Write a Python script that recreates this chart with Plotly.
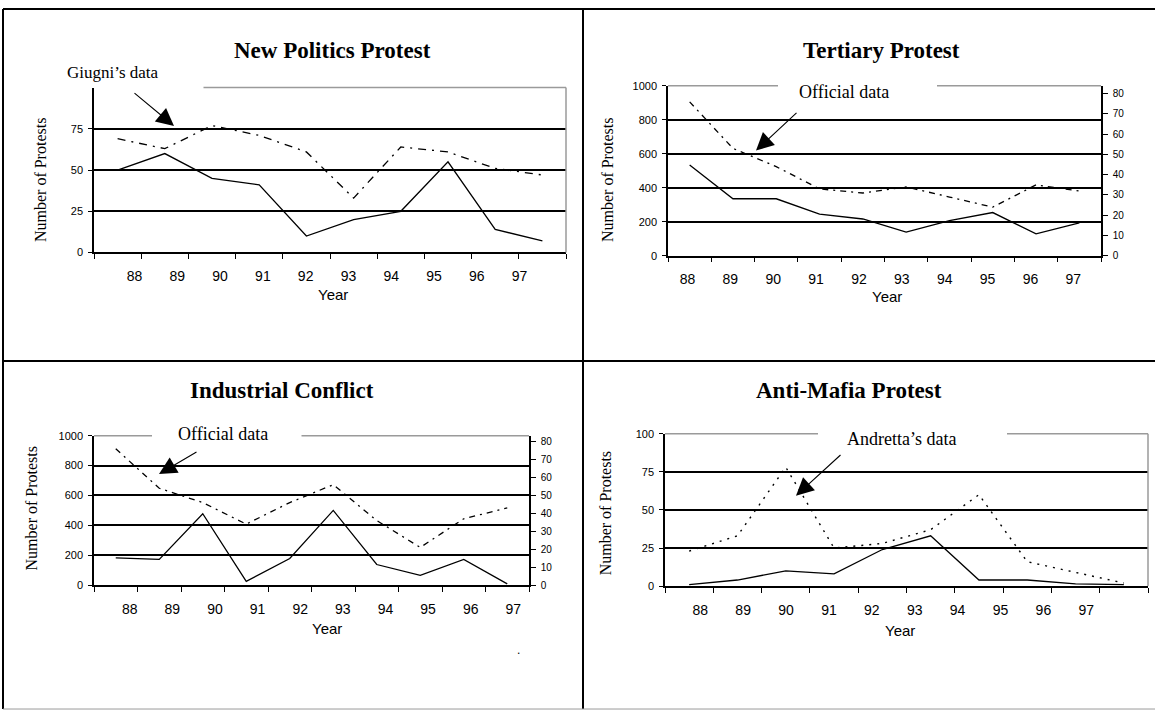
import plotly.graph_objects as go

W, H = 1155, 716

# ---- data -------------------------------------------------------------
years = ["88", "89", "90", "91", "92", "93", "94", "95", "96", "97"]

# New Politics Protest (left axis 0-100)
np_main = [50, 60, 45, 41, 10, 20, 25, 55, 14, 7]
np_giugni = [69, 63, 77, 71, 61, 33, 64, 61, 51, 47]

# Tertiary Protest (main on left axis 0-1000, official on right axis 0-80)
tp_main = [533, 335, 335, 245, 216, 139, 206, 254, 129, 193]
tp_official = [76, 53, 44, 33, 31, 34, 29, 24, 35, 32]

# Industrial Conflict (main on left axis 0-1000, official on right axis 0-80)
ic_main = [183, 172, 478, 25, 178, 500, 138, 65, 172, 8]
ic_official = [76, 54, 46, 34, 46, 56, 36, 21, 37, 43]

# Anti-Mafia Protest (left axis 0-100)
am_main = [1, 4, 10, 8, 24, 33, 4, 4, 1.5, 1]
am_andretta = [23, 33, 78, 25, 28, 37, 60, 16, 9, 2]

ticks_np = [0, 25, 50, 75]
ticks_am = [0, 25, 50, 75, 100]
ticks_thousand = [0, 200, 400, 600, 800, 1000]
ticks_right = [0, 10, 20, 30, 40, 50, 60, 70, 80]

idx = list(range(len(years)))

# ---- layout helpers ---------------------------------------------------
def fx(p):
    return p / W


def fy(p):
    return 1 - p / H


SERIF = "Liberation Serif"
SANS = "Liberation Sans"

# plot boxes in pixels: left, right, top, bottom
boxes = {
    1: (94, 566, 83, 250.7),
    2: (668, 1101, 81, 254),
    3: (94, 529, 437, 589),
    4: (665, 1148, 435, 590),
}
# x tick label placement (offset, step) in category units
label_shift = {1: (0.36, 0.906), 2: (-0.05, 0.99), 3: (0.32, 0.98), 4: (0.23, 0.888)}


def xaxis_cfg(n, anchor):
    l, r, t, b = boxes[n]
    a, s = label_shift[n]
    return dict(
        domain=[fx(l), fx(r)], range=[-0.5, 9.5], anchor=anchor,
        tickmode="array", tickvals=[a + s * i for i in idx], ticktext=years,
        ticks="", showgrid=False, zeroline=False,
        showline=True, linecolor="black", linewidth=1.5,
        tickfont=dict(family=SANS, size=14, color="black"),
        ticklabelstandoff=10,
        minor=dict(tickmode="array", tickvals=[i - 0.5 for i in range(11)],
                   ticks="outside", ticklen=5, tickcolor="black", tickwidth=1.3,
                   showgrid=False),
        fixedrange=True,
    )


def yaxis_cfg(n, anchor, rng, tickvals, gridvals):
    l, r, t, b = boxes[n]
    return dict(
        domain=[fy(b), fy(t)], range=rng, anchor=anchor,
        tickmode="array", tickvals=tickvals, ticktext=[str(v) for v in tickvals],
        ticks="outside", ticklen=4, tickcolor="black", tickwidth=1.3,
        showline=True, linecolor="black", linewidth=1.5,
        showgrid=False, zeroline=False,
        tickfont=dict(family=SANS, size=11, color="black"),
        ticklabelstandoff=3,
        minor=dict(tickmode="array", tickvals=gridvals, showgrid=True,
                   gridcolor="black", gridwidth=1.5, ticks=""),
        fixedrange=True,
    )


def right_axis_cfg(over, anchor, rng):
    return dict(
        overlaying=over, side="right", anchor=anchor, range=rng,
        tickmode="array", tickvals=ticks_right, ticktext=[str(v) for v in ticks_right],
        ticks="outside", ticklen=5, tickcolor="black", tickwidth=1.3,
        showline=True, linecolor="black", linewidth=1.5,
        showgrid=False, zeroline=False,
        tickfont=dict(family=SANS, size=10, color="black"),
        ticklabelstandoff=3,
        fixedrange=True,
    )


fig = go.Figure()

solid = dict(color="black", width=1.3)
dashdot = dict(color="black", width=1.3, dash="8px,6px,2px,6px")
dashdot_small = dict(color="black", width=1.3, dash="6px,5px,2px,5px")
dotted = dict(color="black", width=1.4, dash="2px,6px")

fig.add_trace(go.Scatter(x=idx, y=np_main, mode="lines", line=solid, xaxis="x", yaxis="y"))
fig.add_trace(go.Scatter(x=idx, y=np_giugni, mode="lines", line=dashdot, xaxis="x", yaxis="y"))

fig.add_trace(go.Scatter(x=idx, y=tp_main, mode="lines", line=solid, xaxis="x2", yaxis="y2"))
fig.add_trace(go.Scatter(x=idx, y=tp_official, mode="lines", line=dashdot_small, xaxis="x2", yaxis="y5"))

fig.add_trace(go.Scatter(x=idx, y=ic_main, mode="lines", line=solid, xaxis="x3", yaxis="y3"))
fig.add_trace(go.Scatter(x=idx, y=ic_official, mode="lines", line=dashdot_small, xaxis="x3", yaxis="y6"))

fig.add_trace(go.Scatter(x=idx, y=am_main, mode="lines", line=solid, xaxis="x4", yaxis="y4"))
fig.add_trace(go.Scatter(x=idx, y=am_andretta, mode="lines", line=dotted, xaxis="x4", yaxis="y4"))

shapes = []
GREY = "#9a9a9a"


def seg(x0, y0, x1, y1, color="black", width=2):
    shapes.append(dict(type="line", xref="paper", yref="paper",
                       x0=fx(x0), y0=fy(y0), x1=fx(x1), y1=fy(y1),
                       line=dict(color=color, width=width)))


# cell borders
seg(3, 3, 3, 715)
seg(3, 3, 1155, 3)
seg(583, 3, 583, 715)
seg(3, 361, 1155, 361)
seg(3, 715, 1155, 715, color=GREY, width=1)

# grey chart frames (top edge broken where the series label sits)
frame_top = {1: [(203.5, 566)], 2: [(668, 778), (937, 1101)],
             3: [(94, 152), (301.5, 529)], 4: [(665, 818), (1007, 1148)]}
for n, parts in frame_top.items():
    l, r, t, b = boxes[n]
    for x0, x1 in parts:
        seg(x0, t, x1, t, color=GREY, width=1.5)
for n in (1, 4):
    l, r, t, b = boxes[n]
    seg(r, t, r, b, color=GREY, width=1.5)

ann = []


def text(x, y, s, size, family=SERIF, bold=False, angle=0):
    ann.append(dict(xref="paper", yref="paper", x=fx(x), y=fy(y), text=("<b>%s</b>" % s) if bold else s,
                    showarrow=False, xanchor="center", yanchor="middle", textangle=angle,
                    font=dict(family=family, size=size, color="black")))


def arrow(tip, start):
    ann.append(dict(xref="paper", yref="paper", x=fx(tip[0]), y=fy(tip[1]),
                    ax=start[0] - tip[0], ay=start[1] - tip[1], text="",
                    showarrow=True, arrowhead=2, arrowsize=3.2, arrowwidth=1.1,
                    arrowcolor="black", standoff=0, startstandoff=0))


text(332, 45, "New Politics Protest", 23, bold=True)
text(881, 45, "Tertiary Protest", 23, bold=True)
text(282, 391, "Industrial Conflict", 23, bold=True)
text(849, 391, "Anti-Mafia Protest", 23, bold=True)

text(113, 68, "Giugni’s data", 17)
text(844, 87, "Official data", 18)
text(223, 435, "Official data", 18)
text(901, 440, "Andretta’s data", 18)

arrow((174, 122), (133, 88))
arrow((756, 147), (798, 108))
arrow((159, 476), (198, 453))
arrow((796, 498), (842, 456))

for (x, y) in [(333, 293), (887, 295), (327, 633), (900, 635)]:
    text(x, y, "Year", 15, family=SANS)
for (x, y) in [(40, 177), (607, 177), (31, 511), (605, 516)]:
    text(x, y, "Number of Protests", 16, angle=-90)

text(518, 655, ".", 12, family=SANS)

fig.update_layout(
    width=W, height=H, margin=dict(l=0, r=0, t=0, b=0),
    paper_bgcolor="white", plot_bgcolor="white", showlegend=False,
    xaxis=xaxis_cfg(1, "y"),
    yaxis=yaxis_cfg(1, "x", [0, 100], ticks_np, [25, 50, 75]),
    xaxis2=xaxis_cfg(2, "y2"),
    yaxis2=yaxis_cfg(2, "x2", [0, 1000], ticks_thousand, [200, 400, 600, 800]),
    xaxis3=xaxis_cfg(3, "y3"),
    yaxis3=yaxis_cfg(3, "x3", [0, 1000], ticks_thousand, [200, 400, 600, 800]),
    xaxis4=xaxis_cfg(4, "y4"),
    yaxis4=yaxis_cfg(4, "x4", [0, 100], ticks_am, [25, 50, 75]),
    yaxis5=right_axis_cfg("y2", "x2", [0, 84]),
    yaxis6=right_axis_cfg("y3", "x3", [0, 83.3]),
    shapes=shapes, annotations=ann,
)

fig.write_html("out.html")
